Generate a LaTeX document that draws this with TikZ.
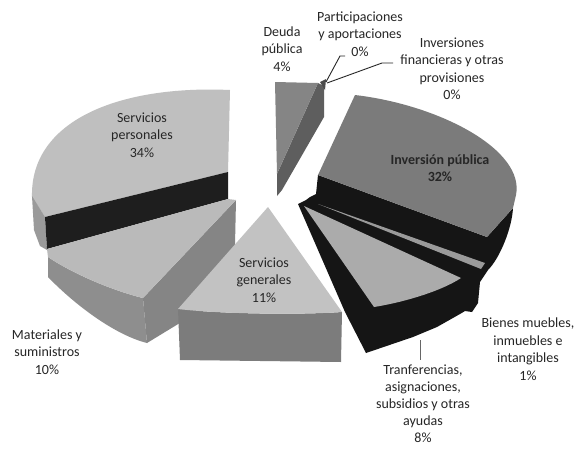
\documentclass[tikz,border=0pt]{standalone}
\usepackage{fontspec}
\setmainfont{Carlito}
\definecolor{persTop}{HTML}{BFBFBF}
\definecolor{persSide}{HTML}{9A9A9A}
\definecolor{band}{HTML}{1E1E1E}
\definecolor{matTop}{HTML}{BABABA}
\definecolor{matSide}{HTML}{8E8E8E}
\definecolor{matRad}{HTML}{858585}
\definecolor{sgTop}{HTML}{C2C2C2}
\definecolor{sgSide}{HTML}{7C7C7C}
\definecolor{deuTop}{HTML}{858585}
\definecolor{deuSide}{HTML}{5E5E5E}
\definecolor{invTop}{HTML}{7B7B7B}
\definecolor{darkSide}{HTML}{151515}
\definecolor{trTop}{HTML}{ABABAB}
\definecolor{bienTop}{HTML}{9A9A9A}
\definecolor{txt}{HTML}{262626}
\begin{document}
\begin{tikzpicture}[x=1pt,y=-1pt,
  lbl/.style={align=center,font=\fontsize{14}{17.5}\selectfont,text=txt,inner sep=0pt},
  leader/.style={draw=txt,line width=0.9pt}]
\useasboundingbox (0,0) rectangle (582,448);
\fill[white] (0,0) rectangle (582,448);

% --- Servicios personales ---
\fill[persTop] (230,90) .. controls (120,85) and (30,120) .. (32,197) -- (45,217) -- (228,172) -- cycle;
\fill[persSide] (32,196) -- (45,217) -- (47,250) -- (40,246) -- (34,230) -- cycle;
\fill[band] (45,217) -- (228,172) -- (228,199) -- (47,249) -- cycle;

% --- Materiales y suministros ---
\fill[matSide] (48,257) .. controls (70,272) and (110,290) .. (143,298) -- (147,343) .. controls (115,335) and (75,305) .. (48,277) -- cycle;
\fill[matRad] (236,200) -- (234,290) -- (147,343) -- (143,298) -- cycle;
\fill[matTop] (47,249) -- (228,199) -- (236,200) -- (143,298) .. controls (110,290) and (70,272) .. (48,257) -- cycle;

% --- Servicios generales ---
\fill[sgSide] (178,309) .. controls (220,314) and (300,315) .. (342,312) -- (341,362) -- (180,360) -- cycle;
\fill[sgTop] (268,207) -- (342,312) .. controls (300,315) and (220,314) .. (178,309) -- cycle;

% --- Deuda publica ---
\fill[deuSide] (318,83) -- (324,86) -- (324,117) -- (282,190) -- (277,196) -- (277,174) -- cycle;
\fill[deuTop] (275,82) -- (318,83) -- (277,174) -- cycle;
\fill[deuSide!80!black] (320,82) -- (326,79) -- (325,90) -- cycle;

% --- dark sides (Inversion, Bienes, Transferencias) ---
\fill[darkSide] (318,175) -- (487,237) -- (513,208)
  .. controls (512,228) and (500,258) .. (488,270)
  -- (480,282) -- (478,303) -- (472,312) -- (465,311) -- (460,314)
  -- (437,327) -- (413,337) -- (366,353) -- (345,312) -- (298,204)
  -- (306,200) -- (310,197) -- (316,194) -- cycle;

% --- Inversion publica top ---
\fill[invTop] (355,95) .. controls (440,105) and (525,150) .. (516,195) -- (513,208) -- (487,237) -- (318,175) -- cycle;

% --- Bienes muebles thin top ---
\fill[bienTop] (318,204) -- (485,263) -- (481,269) -- cycle;

% --- Transferencias top ---
\fill[trTop] (304,206) -- (461,278) .. controls (440,292) and (400,303) .. (374,307) -- cycle;

% --- labels ---
\node[lbl] (deuda) at (282,49) {Deuda\\pública\\4\%};
\node[lbl] (part) at (360,34) {Participaciones\\y aportaciones\\0\%};
\node[lbl] (invfin) at (452,68.5) {Inversiones\\financieras y otras\\provisiones\\0\%};
\node[lbl] (pers) at (142,135) {Servicios\\personales\\34\%};
\node[lbl] (sg) at (264,280) {Servicios\\generales\\11\%};
\node[lbl,font=\fontsize{14}{17.5}\selectfont\bfseries] (inv) at (440,168) {Inversión pública\\32\%};
\node[lbl] (mat) at (47,352) {Materiales y\\suministros\\10\%};
\node[lbl] (bien) at (528,349) {Bienes muebles,\\inmuebles e\\intangibles\\1\%};
\node[lbl,font=\fontsize{14}{17}\selectfont] (trans) at (423,404) {Tranferencias,\\asignaciones,\\subsidios y otras\\ayudas\\8\%};

% --- leaders ---
\coordinate (p1) at (345,56);
\coordinate (p2) at (340,56);
\coordinate (tip) at (326,82);
\coordinate (f1) at (393,63);
\coordinate (f2) at (382,63);
\coordinate (tip2) at (327,83);
\coordinate (t1) at (420,340);
\coordinate (t2) at (420,360);
\draw[leader] (p1) -- (p2) -- (tip);
\draw[leader] (f1) -- (f2) -- (tip2);
\draw[leader,draw=black!60] (t1) -- (t2);
\end{tikzpicture}
\end{document}
